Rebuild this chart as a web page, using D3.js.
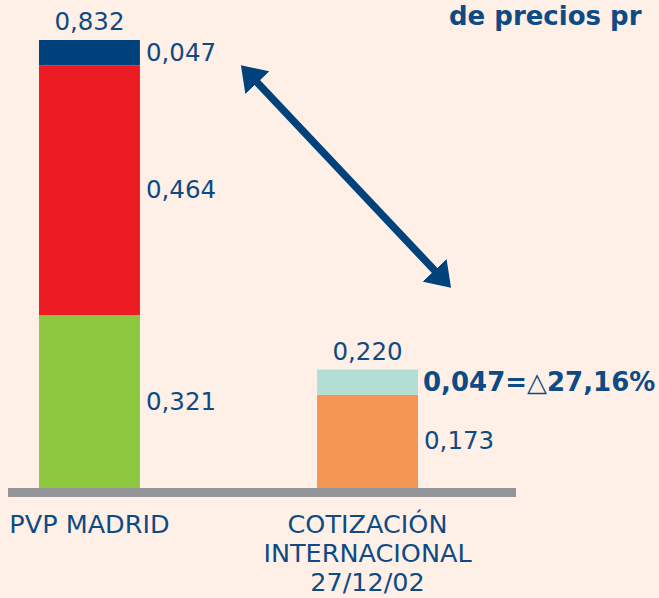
<!DOCTYPE html>
<html>
<head>
  <script src="https://d3js.org/d3.v7.min.js"></script>
  <meta charset="utf-8">
  <title>PVP Madrid vs cotización internacional</title>
  <style>
    body {margin: 0; background: #fef0e6;}
    svg {display: block; font-family: "DejaVu Sans", Verdana, sans-serif;}
  </style>
</head>
<body>
  <div id="chart"></div>
  <script>
    /* Data */
    const categories = ["PVP MADRID", "COTIZACIÓN\nINTERNACIONAL\n27/12/02"];
    const segmentsMadrid = [0.321, 0.464, 0.047];
    const segmentsCotizacion = [0.173, 0.047];
    const totals = [0.832, 0.220];
    const deltaLabel = "0,047=△27,16%";
    const title = "de precios pr";

    const colorsMadrid = ["#8dc63f", "#ed1c24", "#00437c"];
    const colorsCotizacion = ["#f59553", "#b2ded4"];
    const textColor = "#0e4a84";

    const width = 659, height = 598;
    const baseY = 488;

    const svg = d3.select("#chart")
                  .append("svg")
                  .attr("width", width)
                  .attr("height", height);

    svg.append("rect").attr("width", width).attr("height", height).attr("fill", "#fef0e6");

    /* Scales */
    const x = d3.scaleBand().domain(categories).range([39, 418]).paddingInner(0.637).paddingOuter(0);
    const y = d3.scaleLinear().domain([0, 0.832]).range([baseY, 40]);
    const fmt = v => d3.format(".3f")(v).replace(".", ",");

    /* Stack the segments */
    const stackData = (vals, cols, cat) => {
      let acc = 0;
      return vals.map((v, i) => {
        const d = {cat, y0: acc, y1: acc + v, value: v, color: cols[i]};
        acc += v;
        return d;
      });
    };
    const segs = [
      ...stackData(segmentsMadrid, colorsMadrid, categories[0]),
      ...stackData(segmentsCotizacion, colorsCotizacion, categories[1])
    ];

    svg.selectAll(".seg")
       .data(segs)
       .enter()
       .append("rect")
       .attr("class", "seg")
       .attr("x", d => x(d.cat))
       .attr("y", d => y(d.y1))
       .attr("width", x.bandwidth())
       .attr("height", d => y(d.y0) - y(d.y1))
       .attr("fill", d => d.color);

    /* Baseline */
    svg.append("rect")
       .attr("x", 8).attr("y", baseY)
       .attr("width", 508).attr("height", 9)
       .attr("fill", "#939598");

    /* Segment labels (right of bars) */
    svg.selectAll(".seg-label")
       .data(segs.filter(d => !(d.cat === categories[1] && d.y0 > 0)))
       .enter()
       .append("text")
       .attr("class", "seg-label")
       .attr("x", d => x(d.cat) + x.bandwidth() + 6)
       .attr("y", d => (y(d.y0) + y(d.y1)) / 2 + 8)
       .attr("fill", textColor)
       .attr("font-size", 24.5)
       .text(d => fmt(d.value));

    /* Bold delta label on the small top segment */
    const topSeg = segs[segs.length - 1];
    svg.append("text")
       .attr("x", x(topSeg.cat) + x.bandwidth() + 5)
       .attr("y", (y(topSeg.y0) + y(topSeg.y1)) / 2 + 9)
       .attr("fill", textColor)
       .attr("font-size", 26)
       .attr("font-weight", "bold")
       .text(deltaLabel);

    /* Totals above bars */
    svg.selectAll(".total")
       .data(categories)
       .enter()
       .append("text")
       .attr("class", "total")
       .attr("x", d => x(d) + x.bandwidth() / 2)
       .attr("y", (d, i) => y(totals[i]) - 10)
       .attr("text-anchor", "middle")
       .attr("fill", textColor)
       .attr("font-size", 24.5)
       .text((d, i) => fmt(totals[i]));

    /* Category labels */
    const catLabels = svg.selectAll(".cat")
       .data(categories)
       .enter()
       .append("text")
       .attr("class", "cat")
       .attr("x", d => x(d) + x.bandwidth() / 2)
       .attr("y", 533)
       .attr("text-anchor", "middle")
       .attr("fill", textColor)
       .attr("font-size", 25.5);
    catLabels.selectAll("tspan")
       .data(d => d.split("\n").map(t => ({t, cx: x(d) + x.bandwidth() / 2})))
       .enter()
       .append("tspan")
       .attr("x", d => d.cx)
       .attr("dy", (d, i) => i === 0 ? 0 : 29)
       .text(d => d.t);

    /* Title (top right) */
    svg.append("text")
       .attr("x", 449).attr("y", 25)
       .attr("fill", textColor)
       .attr("font-size", 26)
       .attr("font-weight", "bold")
       .text(title);

    /* Double-headed arrow */
    const defs = svg.append("defs");
    defs.append("marker")
        .attr("id", "head")
        .attr("viewBox", "0 0 24 33")
        .attr("markerUnits", "userSpaceOnUse")
        .attr("refX", 5).attr("refY", 16.5)
        .attr("markerWidth", 24).attr("markerHeight", 33)
        .attr("orient", "auto-start-reverse")
        .append("path")
        .attr("d", "M0,0 L24,16.5 L0,33 z")
        .attr("fill", "#00437c");

    const x1 = x(categories[0]) + x.bandwidth() + 114, y1 = y(totals[0]) + 39;
    const x2 = x(categories[1]) + x.bandwidth() + 20, y2 = y(totals[1]) - 95.5;
    svg.append("line")
       .attr("x1", x1).attr("y1", y1)
       .attr("x2", x2).attr("y2", y2)
       .attr("stroke", "#00437c")
       .attr("stroke-width", 7.5)
       .attr("marker-start", "url(#head)")
       .attr("marker-end", "url(#head)");
  </script>
</body>
</html>
